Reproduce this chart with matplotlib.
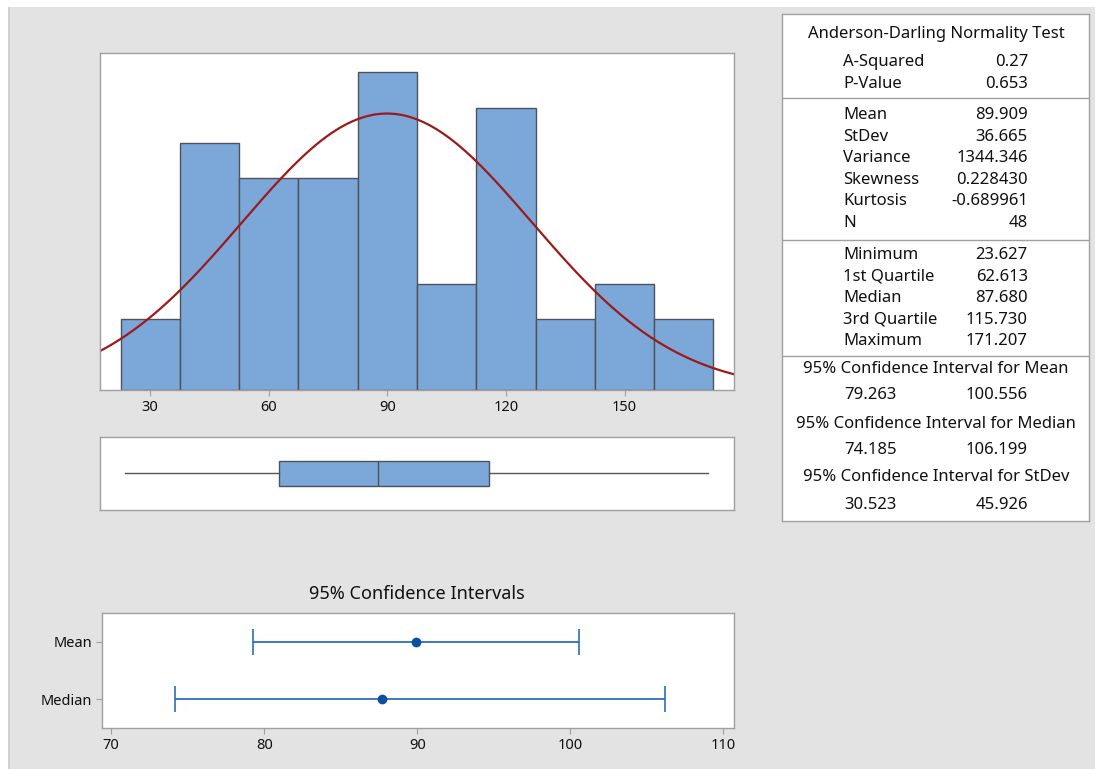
import numpy as np
import matplotlib.pyplot as plt
from matplotlib.patches import Rectangle

plt.rcParams['font.family'] = ['Noto Sans', 'DejaVu Sans']

# Histogram data (bins of width 15 starting at 22.5)
bin_edges = [22.5, 37.5, 52.5, 67.5, 82.5, 97.5, 112.5, 127.5, 142.5, 157.5, 172.5]
counts = [2, 7, 6, 6, 9, 3, 8, 2, 3, 2]

# Summary statistics
n_obs = 48
mean_val = 89.909
stdev_val = 36.665
minimum = 23.627
q1 = 62.613
median_val = 87.680
q3 = 115.730
maximum = 171.207

# Confidence intervals
ci_labels = ['Mean', 'Median']
ci_centers = [89.909, 87.680]
ci_low = [79.263, 74.185]
ci_high = [100.556, 106.199]

# Table text
ad_rows = [('A-Squared', '0.27'), ('P-Value', '0.653')]
desc_rows = [('Mean', '89.909'), ('StDev', '36.665'), ('Variance', '1344.346'),
             ('Skewness', '0.228430'), ('Kurtosis', '-0.689961'), ('N', '48')]
quart_rows = [('Minimum', '23.627'), ('1st Quartile', '62.613'), ('Median', '87.680'),
              ('3rd Quartile', '115.730'), ('Maximum', '171.207')]
ci_rows = [('95% Confidence Interval for Mean', '79.263', '100.556'),
           ('95% Confidence Interval for Median', '74.185', '106.199'),
           ('95% Confidence Interval for StDev', '30.523', '45.926')]

W, H = 1095, 769
BG = '#e3e3e3'
SPINE = '#a0a0a0'
BAR = '#7ba7d9'
BAR_EDGE = '#4f5358'
CURVE = '#9b1b1b'
CI_BLUE = '#2f6db5'
DOT = '#0a4fa3'
TXT = '#111111'


def fig_rect(left, top, right, bottom):
    return [left / W, 1 - bottom / H, (right - left) / W, (bottom - top) / H]


fig = plt.figure(figsize=(W / 100, H / 100), dpi=100, facecolor=BG)

# white strips along the top and left edges
fig.patches.append(Rectangle((0, 1 - 7 / H), 1, 7 / H, transform=fig.transFigure,
                             facecolor='white', edgecolor='none', zorder=0))
fig.patches.append(Rectangle((0, 0), 8 / W, 1, transform=fig.transFigure,
                             facecolor='white', edgecolor='none', zorder=0))
fig.patches.append(Rectangle((8 / W, 0), 2 / W, 1 - 7 / H, transform=fig.transFigure,
                             facecolor='#d0d0d0', edgecolor='none', zorder=0))


def style_spines(ax):
    for s in ax.spines.values():
        s.set_color(SPINE)
        s.set_linewidth(1.0)


# Histogram with fitted normal curve
ax_h = fig.add_axes(fig_rect(100, 53, 734, 390))
widths = np.diff(bin_edges)
ax_h.bar(bin_edges[:-1], counts, width=widths, align='edge', color=BAR,
         edgecolor=BAR_EDGE, linewidth=1.0)
xs = np.linspace(10, 185, 400)
pdf = np.exp(-0.5 * ((xs - mean_val) / stdev_val) ** 2) / (stdev_val * np.sqrt(2 * np.pi))
ax_h.plot(xs, pdf * n_obs * widths[0], color=CURVE, linewidth=1.6)
ax_h.set_xlim(17.3, 177.7)
ax_h.set_ylim(0, 9.55)
ax_h.set_yticks([])
ax_h.set_xticks([30, 60, 90, 120, 150])
ax_h.tick_params(axis='x', length=4, color=SPINE, labelsize=10.5, labelcolor=TXT, pad=3)
style_spines(ax_h)

# Boxplot
ax_b = fig.add_axes(fig_rect(100, 437, 734, 510))
stats = [dict(med=median_val, q1=q1, q3=q3, whislo=minimum, whishi=maximum, fliers=[])]
ax_b.bxp(stats, positions=[0.5], widths=0.34, vert=False, showcaps=False,
         showfliers=False, patch_artist=True,
         boxprops=dict(facecolor=BAR, edgecolor=BAR_EDGE, linewidth=1.0),
         medianprops=dict(color=BAR_EDGE, linewidth=1.0),
         whiskerprops=dict(color='#555555', linewidth=1.0))
ax_b.set_xlim(17.3, 177.7)
ax_b.set_ylim(0, 1)
ax_b.set_xticks([])
ax_b.set_yticks([])
style_spines(ax_b)

# Confidence intervals
ax_c = fig.add_axes(fig_rect(102, 613, 734, 728))
ypos = [2, 1]
for y, c, lo, hi in zip(ypos, ci_centers, ci_low, ci_high):
    ax_c.errorbar([c], [y], xerr=[[c - lo], [hi - c]], fmt='o', color=CI_BLUE,
                  ecolor=CI_BLUE, elinewidth=1.3, capsize=9.5, capthick=1.2,
                  markersize=6, markerfacecolor=DOT, markeredgecolor=DOT)
ax_c.set_xlim(69.4, 110.7)
ax_c.set_ylim(0.5, 2.5)
ax_c.set_xticks([70, 80, 90, 100, 110])
ax_c.set_yticks(ypos)
ax_c.set_yticklabels(ci_labels)
ax_c.tick_params(length=4, color=SPINE, labelsize=10.5, labelcolor=TXT, pad=3)
style_spines(ax_c)
fig.text(417 / W, 1 - 594 / H, '95% Confidence Intervals', ha='center', va='center',
         fontsize=13, color=TXT)

# Statistics table, drawn in pixel coordinates
ax_t = fig.add_axes(fig_rect(782, 14, 1089, 521))
ax_t.set_xlim(782, 1089)
ax_t.set_ylim(521, 14)
ax_t.set_xticks([])
ax_t.set_yticks([])
style_spines(ax_t)
for y in [98, 240, 356]:
    ax_t.axhline(y, color=SPINE, linewidth=1.0)

fs = 12
label_x, value_x = 843, 1028
ax_t.text(936, 34, 'Anderson-Darling Normality Test', ha='center', va='center',
          fontsize=fs, color=TXT)
for rows, y0 in [(ad_rows, 62), (desc_rows, 115), (quart_rows, 255)]:
    for i, (lab, val) in enumerate(rows):
        y = y0 + i * 21.6
        ax_t.text(label_x, y, lab, ha='left', va='center', fontsize=fs, color=TXT)
        ax_t.text(value_x, y, val, ha='right', va='center', fontsize=fs, color=TXT)
for (title, lo, hi), yt, yv in zip(ci_rows, [369, 424, 477], [395, 450, 505]):
    ax_t.text(936, yt, title, ha='center', va='center', fontsize=fs, color=TXT)
    ax_t.text(844, yv, lo, ha='left', va='center', fontsize=fs, color=TXT)
    ax_t.text(value_x, yv, hi, ha='right', va='center', fontsize=fs, color=TXT)

fig.savefig('out.png', dpi=100, facecolor=BG)
